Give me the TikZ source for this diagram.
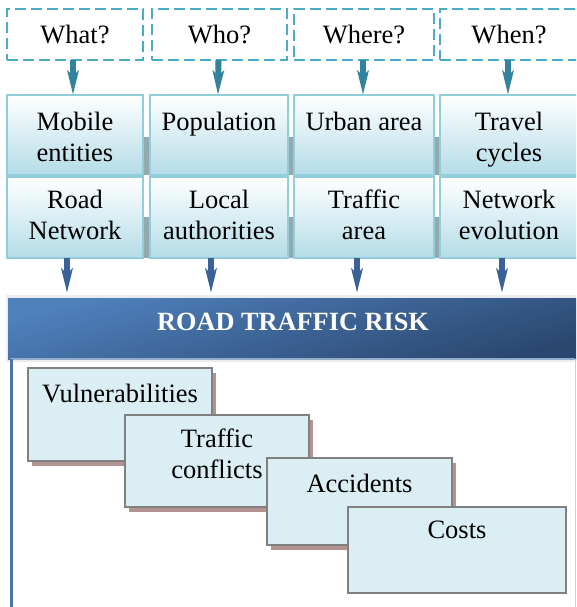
\documentclass[tikz,border=0pt]{standalone}
\usepackage{fontspec}
\setmainfont{Liberation Serif}
\usetikzlibrary{arrows.meta,shadows}

\definecolor{qline}{HTML}{4BACC6}
\definecolor{qarrowc}{HTML}{31849B}
\definecolor{darrowc}{HTML}{3A6299}
\definecolor{boxline}{HTML}{92CDDC}
\definecolor{boxbot}{HTML}{B4DCE7}
\definecolor{jointc}{HTML}{93A9AE}
\definecolor{bartop}{HTML}{4F81BD}
\definecolor{barbot}{HTML}{2B4770}
\definecolor{framec}{HTML}{ECECEC}
\definecolor{panelleft}{HTML}{4A75AA}
\definecolor{panelright}{HTML}{CFCFCF}
\definecolor{cfill}{HTML}{DAEEF3}
\definecolor{cline}{HTML}{808080}
\definecolor{cshadow}{HTML}{B39292}

\newcommand\txtsize{\fontsize{26.5}{31}\selectfont}
\newcommand\titlesize{\fontsize{26.3}{30}\selectfont}

\begin{document}
\begin{tikzpicture}[x=1pt,y=-1pt,
  every node/.style={inner sep=0pt,outer sep=0pt},
  qbox/.style={rectangle,draw=qline,line width=2.6pt,dash pattern=on 11pt off 5pt,font=\txtsize},
  colbox/.style={rectangle,draw=boxline,line width=2.2pt,top color=white,bottom color=boxbot},
  lbl/.style={align=center,font=\txtsize,anchor=north},
  qarr/.style={draw=qarrowc,line width=6pt,-{Stealth[length=24pt,width=11pt,inset=5pt]}},
  darr/.style={draw=darrowc,line width=6pt,-{Stealth[length=24pt,width=11pt,inset=5pt]},shorten >=5pt},
  joint/.style={fill=jointc},
  barbox/.style={rectangle,top color=bartop,bottom color=barbot,shading angle=15},
  cbox/.style={rectangle,fill=cfill,draw=cline,line width=2.6pt},
  cshad/.style={drop shadow={fill=cshadow,opacity=1,shadow xshift=4pt,shadow yshift=-5pt}},
]
\useasboundingbox (0,0) rectangle (576,607);
\begin{scope}
\clip (0,0) rectangle (576,607);

% question boxes
\node[qbox,minimum width=136,minimum height=51] (q1) at (75,34.5) {What?};
\node[qbox,minimum width=135,minimum height=51] (q2) at (219.5,34.5) {Who?};
\node[qbox,minimum width=140,minimum height=51] (q3) at (364,34.5) {Where?};
\node[qbox,minimum width=138,minimum height=51] (q4) at (509,34.5) {When?};

% grey joints between the columns
\fill[joint] (140,137) rectangle (153,175);
\fill[joint] (140,217) rectangle (153,258);
\fill[joint] (285,137) rectangle (297,175);
\fill[joint] (285,217) rectangle (297,258);
\fill[joint] (431,137) rectangle (443,175);
\fill[joint] (431,217) rectangle (443,258);

% column boxes, upper row
\node[colbox,minimum width=136,minimum height=80] (u1) at (75,135) {};
\node[colbox,minimum width=138,minimum height=80] (u2) at (219,135) {};
\node[colbox,minimum width=140,minimum height=80] (u3) at (364,135) {};
\node[colbox,minimum width=138,minimum height=80] (u4) at (509,135) {};
% column boxes, lower row
\node[colbox,minimum width=136,minimum height=81] (r1) at (75,217.5) {};
\node[colbox,minimum width=138,minimum height=81] (r2) at (219,217.5) {};
\node[colbox,minimum width=140,minimum height=81] (r3) at (364,217.5) {};
\node[colbox,minimum width=138,minimum height=81] (r4) at (509,217.5) {};

% column labels
\node[lbl] (u1t) at (75,112) {Mobile\\entities};
\node[lbl] (u2t) at (219,112) {Population};
\node[lbl] (u3t) at (364,112) {Urban area};
\node[lbl] (u4t) at (509,112) {Travel\\cycles};
\node[lbl] (r1t) at (75,190) {Road\\Network};
\node[lbl] (r2t) at (219,190) {Local\\authorities};
\node[lbl] (r3t) at (364,190) {Traffic\\area};
\node[lbl] (r4t) at (509,190) {Network\\evolution};

% arrows from the questions
\draw[qarr] ([xshift=-2pt]q1.south) -- ([xshift=-2pt]u1.north);
\draw[qarr] ([xshift=-1pt]q2.south) -- ([xshift=-1pt]u2.north);
\draw[qarr] ([xshift=-1pt]q3.south) -- ([xshift=-1pt]u3.north);
\draw[qarr] ([xshift=-1pt]q4.south) -- ([xshift=-1pt]u4.north);

% title bar with its light frame
\fill[framec] (6,295) rectangle (578,362);
\node[barbox,minimum width=570,minimum height=61,anchor=north west] (bar) at (8,298) {};
\node[font=\titlesize\bfseries,text=white] (title) at (293,322) {ROAD TRAFFIC RISK};

% arrows into the title bar
\draw[darr] ([xshift=-8pt]r1.south) -- ([xshift=-8pt]r1.south |- bar.north);
\draw[darr] ([xshift=-8pt]r2.south) -- ([xshift=-8pt]r2.south |- bar.north);
\draw[darr] ([xshift=-7pt]r3.south) -- ([xshift=-7pt]r3.south |- bar.north);
\draw[darr] ([xshift=-7pt]r4.south) -- ([xshift=-7pt]r4.south |- bar.north);

% panel below the title bar
\node[minimum width=565,minimum height=250,anchor=north west] (panel) at (10,359) {};
\draw[draw=panelleft!60,line width=1.5pt] (panel.north west) -- (panel.north east);
\draw[draw=panelleft,line width=3pt] ([xshift=1.5pt]panel.north west) -- ([xshift=1.5pt]panel.south west);
\draw[draw=panelright,line width=1pt] (panel.north east) -- (panel.south east);

% cascade of risk components
\node[cbox,cshad,minimum width=184,minimum height=93,anchor=north west] (c1) at (28,368) {};
\node[lbl] (c1t) at (c1.north) [yshift=-16pt] {Vulnerabilities};
\node[cbox,cshad,minimum width=184,minimum height=92,anchor=north west] (c2) at (125,415) {};
\node[lbl] (c2t) at (c2.north) [yshift=-14pt] {Traffic\\conflicts};
\node[cbox,cshad,minimum width=185,minimum height=87,anchor=north west] (c3) at (267,458) {};
\node[lbl] (c3t) at (c3.north) [yshift=-16pt] {Accidents};
\node[cbox,minimum width=218,minimum height=86,anchor=north west] (c4) at (348,507) {};
\node[lbl] (c4t) at (c4.north) [yshift=-14pt] {Costs};
\end{scope}
\end{tikzpicture}
\end{document}
